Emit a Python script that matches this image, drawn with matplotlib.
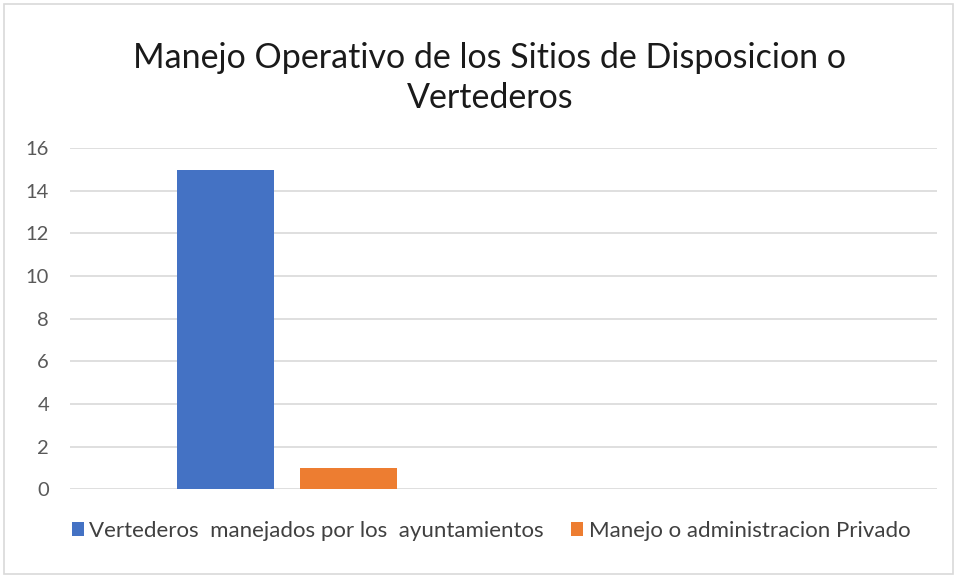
import numpy as np
import matplotlib
matplotlib.use("Agg")
import matplotlib.pyplot as plt
from matplotlib.patches import Rectangle

plt.rcParams['font.family'] = ['Lato', 'DejaVu Sans']

# Datos
categorias = ["", ""]
serie_ayuntamientos = [15, np.nan]
serie_privado = [1, np.nan]
nombres_series = ["Vertederos  manejados por los  ayuntamientos",
                  "Manejo o administracion Privado"]
titulo = "Manejo Operativo de los Sitios de Disposicion o\nVertederos"
ticks_y = [0, 2, 4, 6, 8, 10, 12, 14, 16]

fig = plt.figure(figsize=(9.57, 5.79), dpi=100)
ax = fig.add_axes([0.073, 0.155, 0.906, 0.589])

# Marco de la figura
fig.patches.append(Rectangle((0.004, 0.008), 0.992, 0.985, transform=fig.transFigure,
                             fill=False, edgecolor='#d9d9d9', linewidth=1.2))

x = np.arange(len(categorias))
ancho = 0.224
ax.bar(x - 0.142, serie_ayuntamientos, width=ancho, color='#4472C4',
       label=nombres_series[0], zorder=3)
ax.bar(x + 0.142, serie_privado, width=ancho, color='#ED7D31',
       label=nombres_series[1], zorder=3)

ax.set_xlim(-0.5, len(categorias) - 0.5)
ax.set_ylim(0, 16)
ax.set_yticks(ticks_y)
ax.set_xticks([])
ax.grid(axis='y', color='#d9d9d9', linewidth=1.2, zorder=0)
for s in ax.spines.values():
    s.set_visible(False)
ax.tick_params(axis='y', length=0, pad=15, labelsize=14.5, labelcolor='#595959')

fig.text(0.512, 0.865, titulo, ha='center', va='center', fontsize=24.5,
         color='#1a1a1a', linespacing=1.32)

leg = fig.legend(loc='center', bbox_to_anchor=(0.513, 0.083), ncol=2, frameon=False,
                 fontsize=16, handlelength=0.55, handleheight=0.55, handletextpad=0.25,
                 columnspacing=1.2)
for t in leg.get_texts():
    t.set_color('#404040')

fig.savefig('out.png', dpi=100)
